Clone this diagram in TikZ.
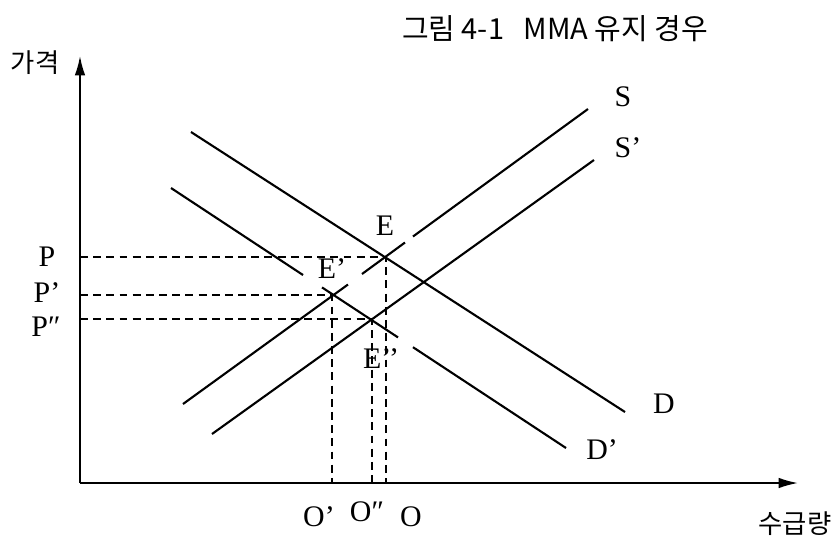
\documentclass[tikz,border=0pt]{standalone}
\usepackage{fontspec}
\setmainfont{Liberation Serif}
\newfontfamily\kofont{Noto Sans CJK KR}
\usetikzlibrary{arrows.meta}

\begin{document}
\begin{tikzpicture}[
  x=0.02cm, y=-0.02cm,
  every node/.style={font=\fontsize{17}{20}\selectfont, inner sep=0pt},
  korean/.style={font=\kofont\fontsize{15}{18}\selectfont},
  curve/.style={line width=1.2pt},
  guide/.style={line width=0.9pt, dash pattern=on 4.5pt off 3pt},
  axis/.style={-{Latex[length=11pt, width=6pt]}, line width=1pt}
]
  \useasboundingbox (0,0) rectangle (838,535);

  \node[korean, font=\kofont\fontsize{16.5}{20}\selectfont] (title) at (555,29) {그림 4-1\ \ \ MMA\ 유지\ 경우};

  % axes
  \coordinate (origin) at (80,483);
  \coordinate (ytip) at (80,56);
  \coordinate (xtip) at (798,483);
  \draw[axis] (origin) -- (ytip);
  \draw[axis] (origin) -- (xtip);
  \node[korean] (price) at (35,63) {가격};
  \node[korean] (qty) at (795,524) {수급량};

  % equilibria
  \coordinate (E) at (386,257);
  \coordinate (E1) at (332,295);
  \coordinate (E2) at (372,319);

  \draw[guide] (origin |- E) -- (E) -- (E |- origin);
  \draw[guide] (origin |- E1) -- (E1) -- (E1 |- origin);
  \draw[guide] (origin |- E2) -- (E2) -- (E2 |- origin);

  % supply and demand
  \draw[curve] (183,404) -- (348,284.5);
  \draw[curve] (362,274) -- (405,242.5);
  \draw[curve] (413,236.5) -- (588,109);
  \draw[curve] (212,434) -- (594,160);
  \draw[curve] (191,132) -- (625,412);
  \draw[curve] (171,188) -- (303,275);
  \draw[curve] (322,287.4) -- (398,337.4);
  \draw[curve] (413,347.2) -- (566,448);

  \node (lS) at (623,97) {S};
  \node (lS1) at (628,148) {S’};
  \node (lD) at (664,404) {D};
  \node (lD1) at (602,450) {D’};
  \node (lE) at (385,226) {E};
  \node (lE1) at (332,269) {E’};
  \node (lE2) at (381,359) {E’’};

  \node (lP) at (47,257) {P};
  \node (lP1) at (47,293) {P’};
  \node (lP2) at (46,327) {P″};
  \node (lO1) at (319,517) {O’};
  \node (lO2) at (367,512) {O″};
  \node (lO) at (411,517) {O};

\end{tikzpicture}
\end{document}
